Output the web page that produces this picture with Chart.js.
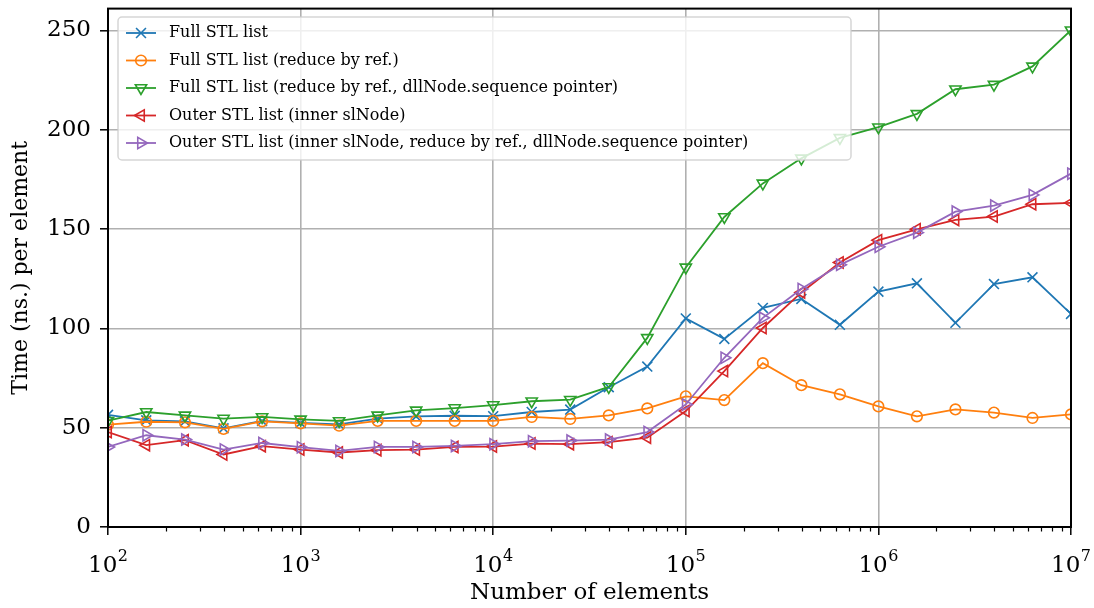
<!DOCTYPE html>
<html>
<head>
<meta charset="utf-8">
<script src="https://cdn.jsdelivr.net/npm/chart.js"></script>
<style>
  html, body { margin: 0; padding: 0; background: #ffffff; }
  canvas { display: block; }
</style>
</head>
<body>
<canvas id="chart" width="1094" height="608"></canvas>
<script>
// Number of elements in each benchmark run
const elementCounts = [100, 158, 251, 398, 631, 1000, 1585, 2512, 3981, 6310,
  10000, 15849, 25119, 39811, 63096, 100000, 158489, 251189, 398107, 630957,
  1000000, 1584893, 2511886, 3981072, 6309573, 10000000];

// Time per element (ns.) for each implementation
const fullStlList = [56.5, 53.7, 53.2, 49.7, 53.4, 52.4, 51.7, 54.6, 55.7, 56.0,
  55.8, 57.9, 59.1, 70.4, 80.8, 105.0, 94.7, 110.3, 114.8, 101.8,
  118.5, 122.7, 102.8, 122.3, 125.7, 107.3];
const fullStlListRef = [51.5, 53.0, 52.7, 49.4, 53.2, 52.2, 51.0, 53.4, 53.4, 53.4,
  53.4, 55.4, 54.4, 56.2, 59.7, 65.8, 63.9, 82.5, 71.4, 66.8,
  60.7, 55.7, 59.2, 57.6, 54.9, 56.7];
const fullStlListRefSeq = [53.5, 57.9, 56.2, 54.6, 55.4, 54.2, 53.4, 56.2, 58.7, 59.9,
  61.4, 63.3, 64.1, 70.5, 95.2, 130.7, 156.1, 173.0, 185.6, 195.9,
  201.3, 208.0, 220.4, 222.7, 231.9, 250.1];
const outerStlList = [47.8, 41.2, 43.7, 36.5, 40.7, 39.0, 37.5, 38.7, 39.0, 40.3,
  40.5, 42.0, 41.7, 42.7, 45.0, 58.4, 78.5, 100.2, 118.1, 133.2,
  144.4, 149.9, 154.6, 156.3, 162.5, 163.2];
const outerStlListRefSeq = [40.3, 46.2, 44.0, 39.0, 42.3, 40.2, 38.3, 40.3, 40.3, 40.8,
  41.7, 43.2, 43.5, 44.0, 47.8, 61.7, 85.2, 105.3, 119.8, 132.0,
  141.1, 148.2, 158.8, 161.8, 167.2, 177.9];

const seriesLabels = [
  'Full STL list',
  'Full STL list (reduce by ref.)',
  'Full STL list (reduce by ref., dllNode.sequence pointer)',
  'Outer STL list (inner slNode)',
  'Outer STL list (inner slNode, reduce by ref., dllNode.sequence pointer)'
];

// Axis ticks: x labels are written as base 10 with a raised exponent
const xTickValues = [1e2, 1e3, 1e4, 1e5, 1e6, 1e7];
const xTickBase = '10';
const xTickExponents = ['2', '3', '4', '5', '6', '7'];
const xMinorMultipliers = [2, 3, 4, 5, 6, 7, 8, 9];
const yTickValues = [0, 50, 100, 150, 200, 250];

const seriesValues = [fullStlList, fullStlListRef, fullStlListRefSeq, outerStlList, outerStlListRefSeq];
const seriesColors = ['#1f77b4', '#ff7f0e', '#2ca02c', '#d62728', '#9467bd'];
const seriesMarkers = [
  { style: 'crossRot', rotation: 0, radius: 7 },
  { style: 'circle', rotation: 0, radius: 5.3 },
  { style: 'triangle', rotation: 180, radius: 6.5 },
  { style: 'triangle', rotation: 270, radius: 6.5 },
  { style: 'triangle', rotation: 90, radius: 6.5 }
];

const SERIF = '"DejaVu Serif", "Liberation Serif", serif';
const LINE_W = 1.8;

const datasets = seriesValues.map((vals, i) => ({
  label: seriesLabels[i],
  data: vals.map((v, j) => ({ x: elementCounts[j], y: v })),
  borderColor: seriesColors[i],
  backgroundColor: 'rgba(0,0,0,0)',
  borderWidth: LINE_W,
  tension: 0,
  fill: false,
  pointStyle: seriesMarkers[i].style,
  pointRotation: seriesMarkers[i].rotation,
  pointRadius: seriesMarkers[i].radius,
  pointHoverRadius: seriesMarkers[i].radius,
  pointBorderColor: seriesColors[i],
  pointBackgroundColor: 'rgba(0,0,0,0)',
  pointBorderWidth: 1.6,
  clip: 0,
  order: seriesValues.length - 1 - i
}));

// Boxed axes frame drawn over the data
const framePlugin = {
  id: 'frame',
  afterDatasetsDraw(chart) {
    const { ctx, chartArea: a } = chart;
    ctx.save();
    ctx.strokeStyle = '#000';
    ctx.lineWidth = 2;
    ctx.strokeRect(a.left, a.top, a.right - a.left, a.bottom - a.top);
    ctx.restore();
  }
};

// Minor ticks and 10^n labels on the logarithmic x axis
const xAxisDecorPlugin = {
  id: 'xAxisDecor',
  afterDraw(chart) {
    const { ctx, chartArea: a } = chart;
    const xs = chart.scales.x;
    ctx.save();
    ctx.strokeStyle = '#000';
    ctx.lineWidth = 1.2;
    for (let d = 0; d < xTickValues.length - 1; d++) {
      for (const m of xMinorMultipliers) {
        const px = Math.round(xs.getPixelForValue(xTickValues[d] * m)) + 0.5;
        ctx.beginPath();
        ctx.moveTo(px, a.bottom);
        ctx.lineTo(px, a.bottom + 4.5);
        ctx.stroke();
      }
    }
    ctx.fillStyle = '#000';
    ctx.textBaseline = 'alphabetic';
    ctx.textAlign = 'left';
    const baseFont = '23px ' + SERIF;
    const expFont = '16px ' + SERIF;
    xTickValues.forEach((v, i) => {
      const px = xs.getPixelForValue(v);
      ctx.font = baseFont;
      const w1 = ctx.measureText(xTickBase).width;
      ctx.font = expFont;
      const w2 = ctx.measureText(xTickExponents[i]).width;
      const start = px - (w1 + w2 + 0.5) / 2;
      ctx.font = baseFont;
      ctx.fillText(xTickBase, start, 572);
      ctx.font = expFont;
      ctx.fillText(xTickExponents[i], start + w1 + 0.5, 561);
    });
    ctx.restore();
  }
};

function drawMarker(ctx, marker, x, y) {
  if (Chart.helpers && Chart.helpers.drawPoint) {
    Chart.helpers.drawPoint(ctx, {
      pointStyle: marker.style, rotation: marker.rotation,
      radius: marker.radius, borderWidth: 1.6
    }, x, y);
    return;
  }
  ctx.beginPath();
  if (marker.style === 'circle') {
    ctx.arc(x, y, marker.radius, 0, Math.PI * 2);
  } else if (marker.style === 'crossRot') {
    const o = marker.radius * Math.SQRT1_2;
    ctx.moveTo(x - o, y - o); ctx.lineTo(x + o, y + o);
    ctx.moveTo(x - o, y + o); ctx.lineTo(x + o, y - o);
  } else {
    let rad = marker.rotation * Math.PI / 180;
    ctx.moveTo(x + Math.sin(rad) * marker.radius, y - Math.cos(rad) * marker.radius);
    for (let k = 0; k < 2; k++) {
      rad += 2 * Math.PI / 3;
      ctx.lineTo(x + Math.sin(rad) * marker.radius, y - Math.cos(rad) * marker.radius);
    }
    ctx.closePath();
  }
  ctx.stroke();
}

// Framed, semi-transparent legend inside the plot area (upper left)
const boxLegendPlugin = {
  id: 'boxLegend',
  afterDraw(chart) {
    const { ctx } = chart;
    const bx = 118, by = 17, bw = 733, bh = 143, r = 4;
    ctx.save();
    ctx.beginPath();
    ctx.moveTo(bx + r, by);
    ctx.arcTo(bx + bw, by, bx + bw, by + bh, r);
    ctx.arcTo(bx + bw, by + bh, bx, by + bh, r);
    ctx.arcTo(bx, by + bh, bx, by, r);
    ctx.arcTo(bx, by, bx + bw, by, r);
    ctx.closePath();
    ctx.fillStyle = 'rgba(255,255,255,0.8)';
    ctx.fill();
    ctx.strokeStyle = 'rgba(204,204,204,0.8)';
    ctx.lineWidth = 1.5;
    ctx.stroke();

    ctx.font = '16px ' + SERIF;
    ctx.textBaseline = 'middle';
    ctx.textAlign = 'left';
    seriesLabels.forEach((label, i) => {
      const y = 33 + i * 27.5;
      ctx.strokeStyle = seriesColors[i];
      ctx.lineWidth = LINE_W;
      ctx.beginPath();
      ctx.moveTo(126, y);
      ctx.lineTo(156, y);
      ctx.stroke();
      ctx.fillStyle = 'rgba(0,0,0,0)';
      ctx.lineWidth = 1.6;
      drawMarker(ctx, seriesMarkers[i], 141, y);
      ctx.fillStyle = '#000';
      ctx.fillText(label, 169, y);
    });
    ctx.restore();
  }
};

new Chart(document.getElementById('chart'), {
  type: 'line',
  data: { datasets },
  plugins: [framePlugin, xAxisDecorPlugin, boxLegendPlugin],
  options: {
    responsive: false,
    animation: false,
    devicePixelRatio: 1,
    layout: { padding: { top: 7, right: 23, left: 0, bottom: 0 } },
    plugins: {
      legend: { display: false },
      tooltip: { enabled: false }
    },
    scales: {
      x: {
        type: 'logarithmic',
        min: 1e2,
        max: 1e7,
        afterBuildTicks(scale) {
          scale.ticks = xTickValues.map(v => ({ value: v }));
        },
        afterFit(scale) {
          scale.height = 81;
          scale.paddingLeft = 0;
          scale.paddingRight = 0;
        },
        ticks: { display: false, autoSkip: false, maxRotation: 0 },
        grid: {
          color: '#b0b0b0',
          lineWidth: 1.6,
          drawTicks: true,
          tickLength: 8,
          tickColor: '#000',
          tickWidth: 1.5
        },
        border: { display: true, color: '#000', width: 2 },
        title: {
          display: true,
          text: 'Number of elements',
          color: '#000',
          font: { family: SERIF, size: 23 },
          padding: { top: 0, bottom: 1 }
        }
      },
      y: {
        type: 'linear',
        min: 0,
        max: 261,
        afterBuildTicks(scale) {
          scale.ticks = yTickValues.map(v => ({ value: v }));
        },
        afterFit(scale) {
          scale.width = 108;
          scale.paddingTop = 0;
          scale.paddingBottom = 0;
        },
        ticks: {
          padding: 9,
          color: '#000',
          font: { family: SERIF, size: 23 },
          callback: (value) => String(value)
        },
        grid: {
          color: '#b0b0b0',
          lineWidth: 1.6,
          drawTicks: true,
          tickLength: 8,
          tickColor: '#000',
          tickWidth: 1.5
        },
        border: { display: true, color: '#000', width: 2 },
        title: {
          display: true,
          text: 'Time (ns.) per element',
          color: '#000',
          font: { family: SERIF, size: 22 },
          padding: { top: 8, bottom: 0 }
        }
      }
    }
  }
});
</script>
</body>
</html>
